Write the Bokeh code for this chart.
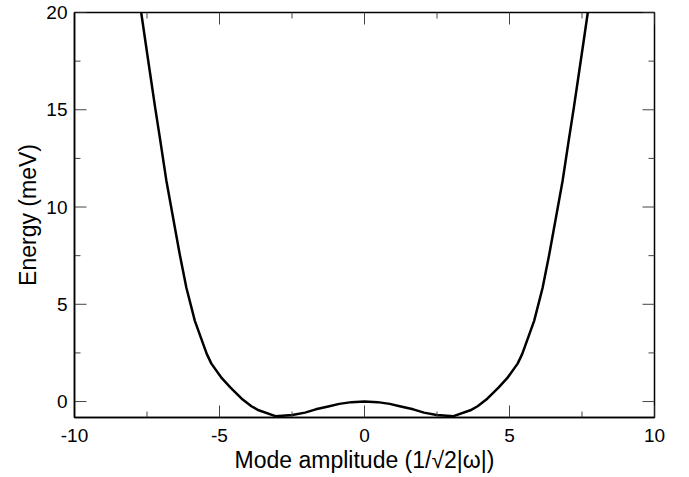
import math
from bokeh.plotting import figure
from bokeh.models import SingleIntervalTicker, Range1d
from bokeh.embed import file_html
from bokeh.resources import INLINE

# Values
amplitude = [-7.70, -7.56, -7.39, -7.22, -7.04, -6.83, -6.58, -6.37, -6.14, -5.85,
             -5.44, -5.28, -4.92, -4.62, -4.20, -3.90, -3.65, -3.07, -2.49, -2.05,
             -1.68, -1.25, -0.87, -0.45, 0.0,
             0.45, 0.87, 1.25, 1.68, 2.05, 2.49, 3.07, 3.65, 3.90, 4.20,
             4.62, 4.92, 5.28, 5.44, 5.85, 6.14, 6.37, 6.58, 6.83, 7.04,
             7.22, 7.39, 7.56, 7.70]
energy = [20.0, 18.56, 16.84, 15.12, 13.40, 11.34, 9.28, 7.56, 5.84, 4.15,
          2.45, 1.95, 1.20, 0.72, 0.10, -0.24, -0.45, -0.75, -0.69, -0.57,
          -0.40, -0.25, -0.12, -0.03, 0.0,
          -0.03, -0.12, -0.25, -0.40, -0.57, -0.69, -0.75, -0.45, -0.24, 0.10,
          0.72, 1.20, 1.95, 2.45, 4.15, 5.84, 7.56, 9.28, 11.34, 13.40,
          15.12, 16.84, 18.56, 20.0]
x_tick_values = [-10, -5, 0, 5, 10]
x_tick_labels = ["-10", "-5", "0", "5", "10"]
x_minor_ticks = [-7.5, -2.5, 2.5, 7.5]
y_tick_values = [0, 5, 10, 15, 20]
y_tick_labels = ["0", "5", "10", "15", "20"]
y_minor_ticks = [2.5, 7.5, 12.5, 17.5]
X_START, X_END = -10, 10
Y_START, Y_END = -0.82, 20

FONT = "Liberation Sans"
TICK = "#444444"

p = figure(width=681, height=475, output_backend="svg", toolbar_location=None,
           x_range=Range1d(X_START, X_END), y_range=Range1d(Y_START, Y_END),
           min_border_left=74, min_border_right=27, min_border_top=12,
           min_border_bottom=50, x_axis_label="Mode amplitude (1/√2|ω|)",
           y_axis_label="Energy (meV)")
p.grid.visible = False
p.outline_line_color = "black"
p.outline_line_width = 1.5
p.background_fill_color = "white"
p.border_fill_color = "white"

p.line(amplitude, energy, line_color="black", line_width=2.5, line_join="round")

# inward ticks on all four sides (half of each dash is clipped by the frame)
for xs, size in ((x_tick_values, 24), (x_minor_ticks, 12)):
    for yy in (Y_START, Y_END):
        p.scatter(xs, [yy] * len(xs), marker="dash", size=size, angle=math.pi / 2,
                  line_color=TICK, line_width=1)
for ys, size in ((y_tick_values, 24), (y_minor_ticks, 12)):
    for xx in (X_START, X_END):
        p.scatter([xx] * len(ys), ys, marker="dash", size=size,
                  line_color=TICK, line_width=1)

p.xaxis.ticker = SingleIntervalTicker(interval=5, num_minor_ticks=0)
p.yaxis.ticker = SingleIntervalTicker(interval=5, num_minor_ticks=0)
p.xaxis.major_label_overrides = dict(zip(x_tick_values, x_tick_labels))
p.yaxis.major_label_overrides = dict(zip(y_tick_values, y_tick_labels))
for ax in p.xaxis + p.yaxis:
    ax.axis_line_color = "black"
    ax.axis_line_width = 1.5
    ax.major_tick_in = 0
    ax.major_tick_out = 0
    ax.minor_tick_in = 0
    ax.minor_tick_out = 0
    ax.major_label_text_font = FONT
    ax.major_label_text_font_size = "19px"
    ax.major_label_text_color = "black"
    ax.axis_label_text_font = FONT
    ax.axis_label_text_font_size = "23px"
    ax.axis_label_text_font_style = "normal"
    ax.axis_label_text_color = "black"
p.xaxis.major_label_standoff = 11
p.xaxis.axis_label_standoff = 2
p.yaxis.major_label_standoff = 7
p.yaxis.axis_label_standoff = 2

open("out.html", "w").write(file_html(p, INLINE))
